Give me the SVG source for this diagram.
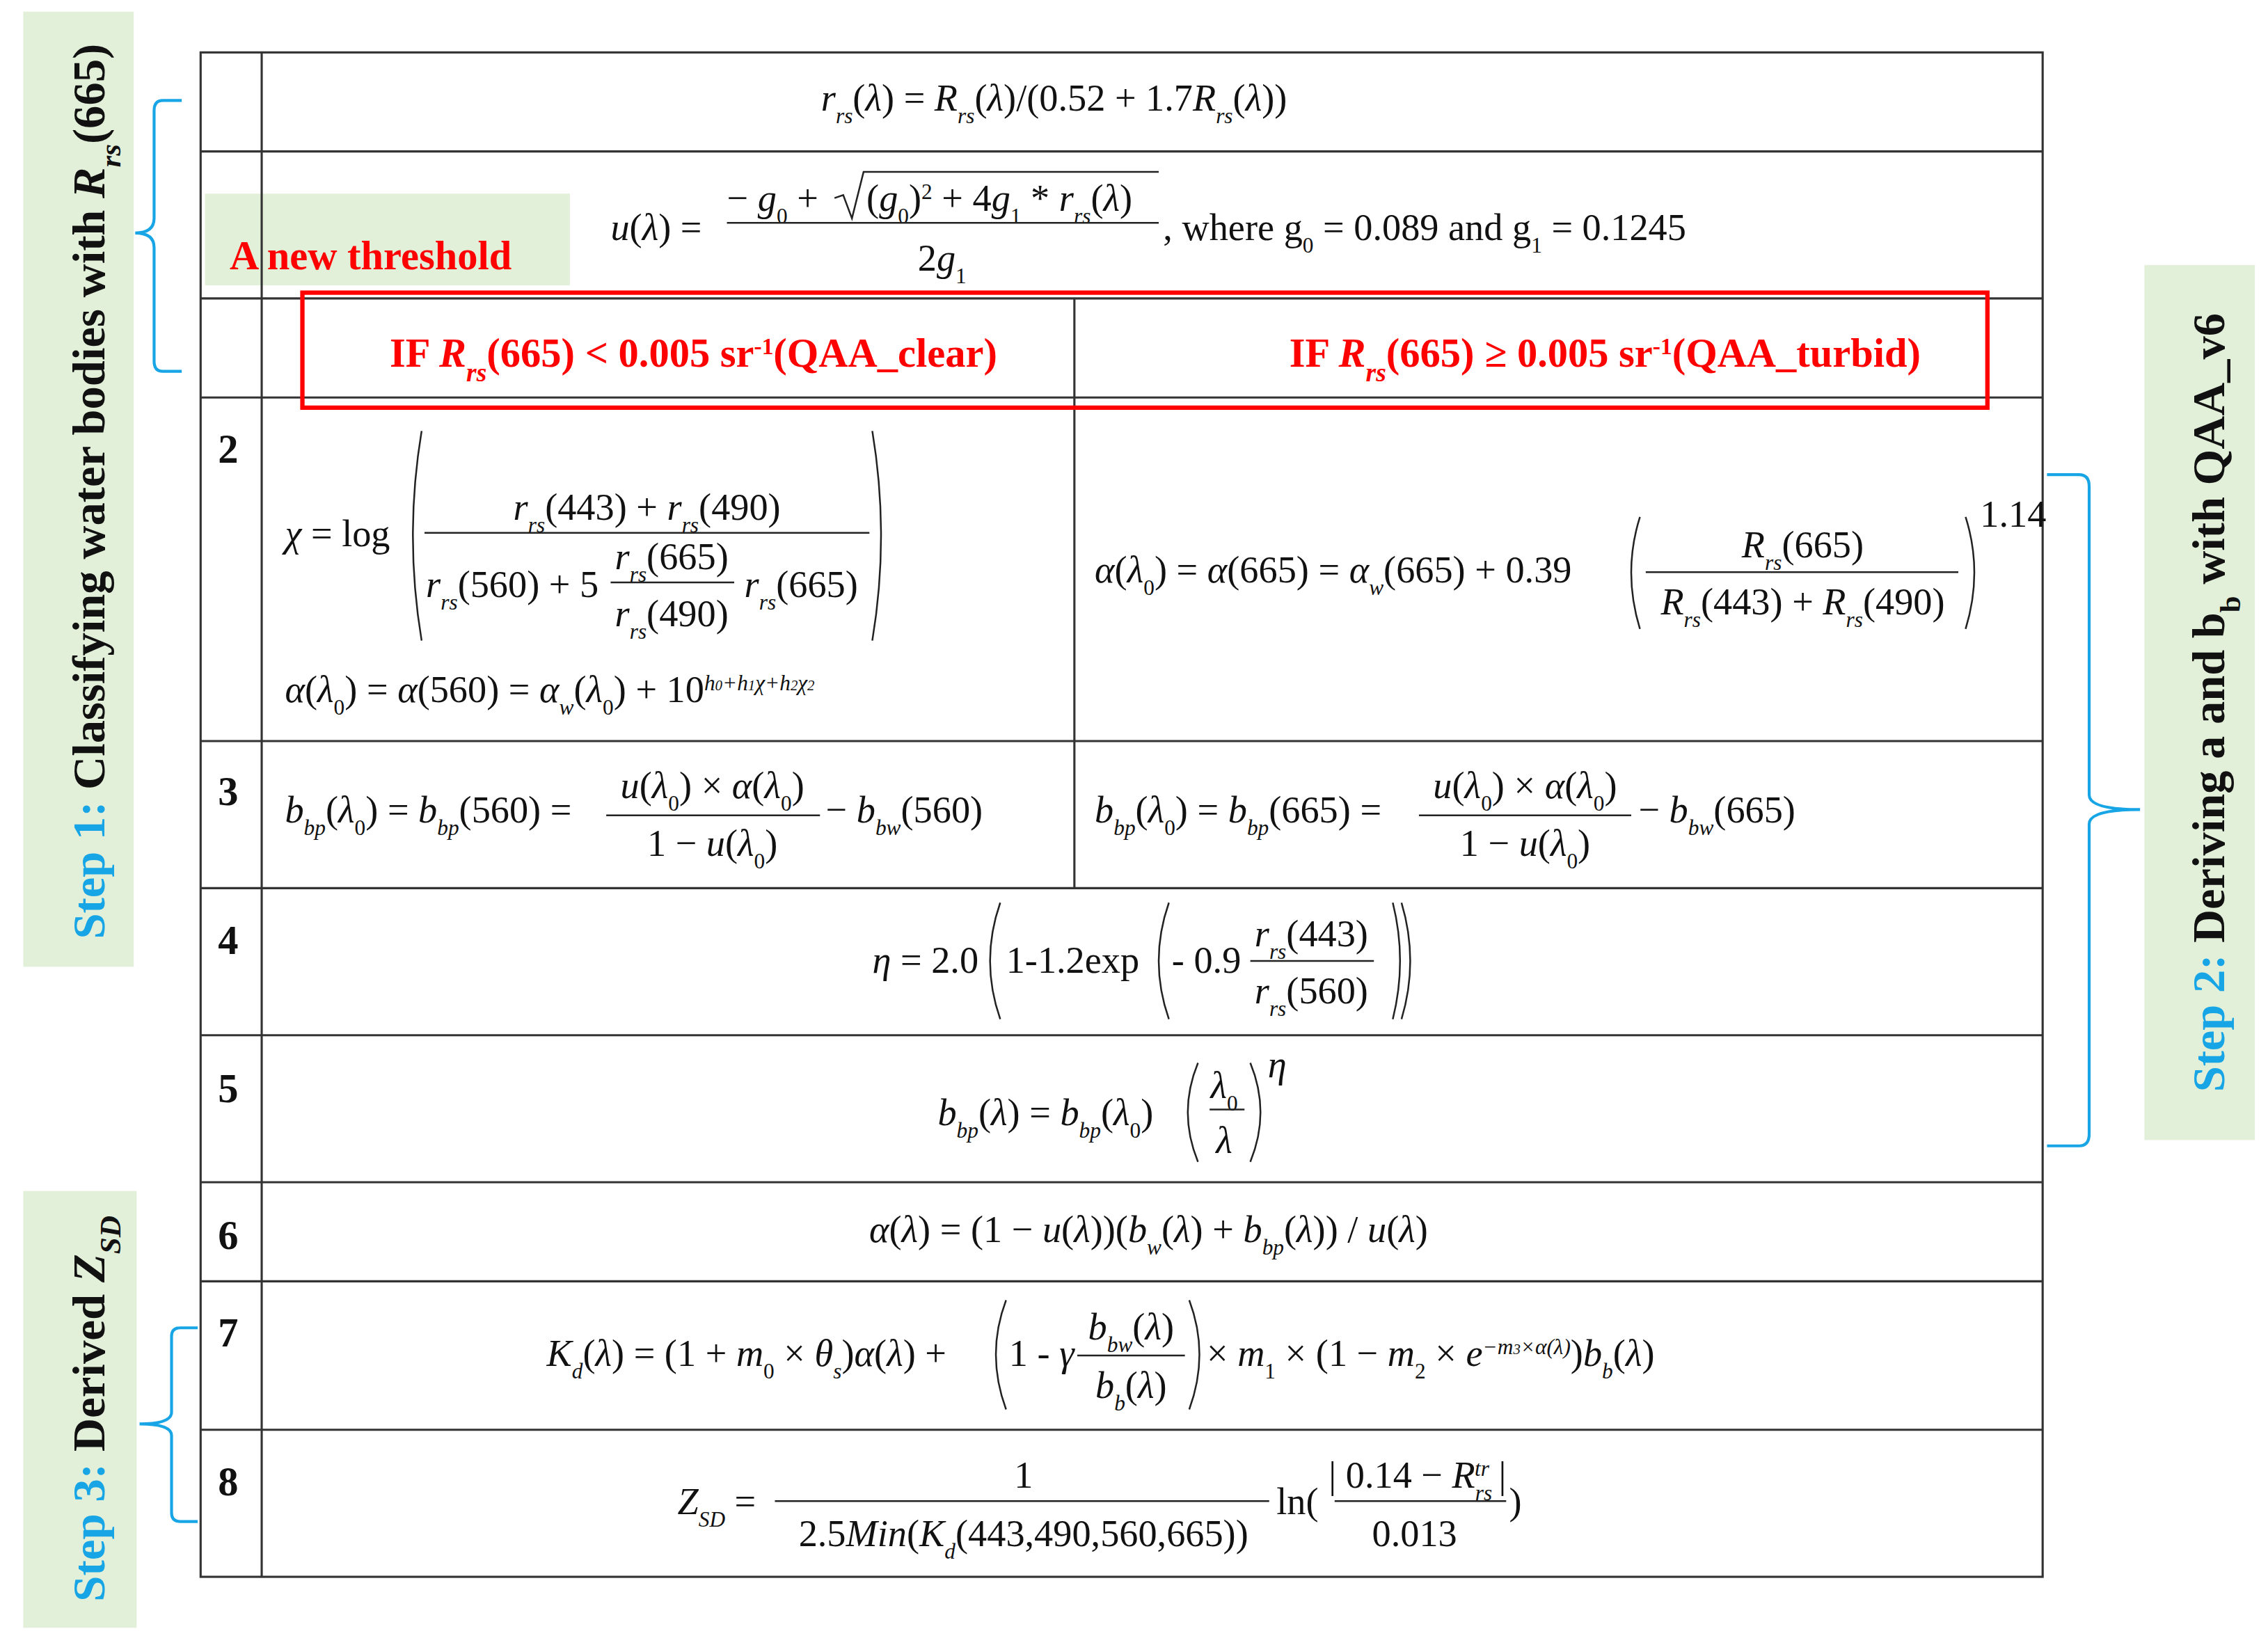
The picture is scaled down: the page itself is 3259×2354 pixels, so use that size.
<svg xmlns="http://www.w3.org/2000/svg" width="3259" height="2354" viewBox="0 0 3259 2354">
<style>
.m{font-family:"Liberation Serif",serif;font-size:26px;fill:#111}
.i{font-style:italic}
.sb{font-size:15px;baseline-shift:sub}
.sp{font-size:15px;baseline-shift:super}
.n{font-family:"Liberation Serif",serif;font-size:28px;font-weight:bold;fill:#111}
.red{font-family:"Liberation Serif",serif;font-size:28px;font-weight:bold;fill:#ff0000}
.g{fill:#e2efd9}
.tl{stroke:#333;stroke-width:1.5;fill:none}
.fl{stroke:#222;stroke-width:1.2;fill:none}
.br{stroke:#17a5e6;stroke-width:2;fill:none}
.st{font-family:"Liberation Serif",serif;font-size:31px;font-weight:bold;fill:#111}
.c{fill:#17a5e6}
</style>
<rect width="3259" height="2354" fill="#fff"/>
<g transform="scale(2.0891,2.0924)">
<g id="labels">
<rect class="g" x="16" y="8" width="76" height="656"/>
<text class="st" transform="translate(72,645) rotate(-90)" textLength="615" lengthAdjust="spacingAndGlyphs"><tspan class="c">Step 1:</tspan> Classifying water bodies with <tspan font-style="italic">R<tspan font-size="20" baseline-shift="sub">rs</tspan></tspan>(665)</text>
<rect class="g" x="16" y="818" width="78" height="300"/>
<text class="st" transform="translate(72,1100) rotate(-90)" textLength="265" lengthAdjust="spacingAndGlyphs"><tspan class="c">Step 3:</tspan> Derived <tspan font-style="italic">Z<tspan font-size="20" baseline-shift="sub">SD</tspan></tspan></text>
<rect class="g" x="1475" y="182" width="76" height="601"/>
<text class="st" transform="translate(1530,750) rotate(-90)" textLength="535" lengthAdjust="spacingAndGlyphs"><tspan class="c">Step 2:</tspan> Deriving a and b<tspan font-size="20" baseline-shift="sub">b</tspan> with QAA_v6</text>
<rect class="g" x="141" y="133" width="251" height="63"/>
<text class="red" x="158" y="185">A new threshold</text>
</g>
<g id="braces">
<path class="br" d="M125,69 H112 Q106,69 106,76 V150 Q106,160 93,160 Q106,160 106,170 V248 Q106,255 112,255 H125"/>
<path class="br" d="M1408,326 H1430 Q1437,326 1437,334 V546 Q1437,556 1472,556 Q1437,556 1437,566 V779 Q1437,787 1430,787 H1408"/>
<path class="br" d="M136,912 H124 Q118,912 118,918 V970 Q118,978 96,978 Q118,978 118,986 V1039 Q118,1045 124,1045 H136"/>
</g>
<g id="table">
<rect class="tl" x="138" y="36" width="1267" height="1047"/>
<path class="tl" d="M180,36 V1083 M138,104 H1405 M138,205 H1405 M138,273 H1405 M138,509 H1405 M138,610 H1405 M138,711 H1405 M138,812 H1405 M138,880 H1405 M138,982 H1405 M739,205 V610"/>
<rect x="208" y="201" width="1159" height="79" fill="none" stroke="#ff0000" stroke-width="3"/>
<text class="red" x="477" y="252" text-anchor="middle">IF <tspan font-style="italic">R<tspan font-size="18" baseline-shift="sub">rs</tspan></tspan>(665) &lt; 0.005 sr<tspan font-size="16" baseline-shift="super">-1</tspan>(QAA_clear)</text>
<text class="red" x="1104" y="252" text-anchor="middle">IF <tspan font-style="italic">R<tspan font-size="18" baseline-shift="sub">rs</tspan></tspan>(665) ≥ 0.005 sr<tspan font-size="16" baseline-shift="super">-1</tspan>(QAA_turbid)</text>
<text class="n" x="150" y="318">2</text>
<text class="n" x="150" y="553">3</text>
<text class="n" x="150" y="655">4</text>
<text class="n" x="150" y="757">5</text>
<text class="n" x="150" y="858">6</text>
<text class="n" x="150" y="925">7</text>
<text class="n" x="150" y="1027">8</text>
</g>
<g id="formulas">
<text class="m" x="725" y="76" text-anchor="middle"><tspan class="i">r</tspan><tspan class="sb i">rs</tspan>(<tspan class="i">λ</tspan>) = <tspan class="i">R</tspan><tspan class="sb i">rs</tspan>(<tspan class="i">λ</tspan>)/(0.52 + 1.7<tspan class="i">R</tspan><tspan class="sb i">rs</tspan>(<tspan class="i">λ</tspan>))</text>
<text class="m" x="420" y="165"><tspan class="i">u</tspan>(<tspan class="i">λ</tspan>) =</text>
<text class="m" x="500" y="145">− <tspan class="i">g</tspan><tspan class="sb">0</tspan> + </text>
<path class="fl" d="M574,136 L580,134 L586,150 L594,118 H797"/>
<text class="m" x="596" y="145">(<tspan class="i">g</tspan><tspan class="sb">0</tspan>)<tspan class="sp">2</tspan> + 4<tspan class="i">g</tspan><tspan class="sb">1</tspan> * <tspan class="i">r</tspan><tspan class="sb i">rs</tspan>(<tspan class="i">λ</tspan>)</text>
<path class="fl" d="M500,153 H797"/>
<text class="m" x="648" y="186" text-anchor="middle">2<tspan class="i">g</tspan><tspan class="sb">1</tspan></text>
<text class="m" x="800" y="165">, where  g<tspan class="sb">0</tspan> = 0.089 and g<tspan class="sb">1</tspan> = 0.1245</text>
<!-- row 2 left -->
<text class="m" x="196" y="375"><tspan class="i">χ</tspan> = log</text>
<path class="fl" d="M290,296 Q278,368 290,440 M600,296 Q612,368 600,440"/>
<text class="m" x="445" y="357" text-anchor="middle"><tspan class="i">r</tspan><tspan class="sb i">rs</tspan>(443) + <tspan class="i">r</tspan><tspan class="sb i">rs</tspan>(490)</text>
<path class="fl" d="M292,366 H598"/>
<text class="m" x="293" y="410"><tspan class="i">r</tspan><tspan class="sb i">rs</tspan>(560) + 5</text>
<text class="m" x="462" y="391" text-anchor="middle"><tspan class="i">r</tspan><tspan class="sb i">rs</tspan>(665)</text>
<path class="fl" d="M420,400 H505"/>
<text class="m" x="462" y="430" text-anchor="middle"><tspan class="i">r</tspan><tspan class="sb i">rs</tspan>(490)</text>
<text class="m" x="512" y="410"><tspan class="i">r</tspan><tspan class="sb i">rs</tspan>(665)</text>
<text class="m" x="196" y="482"><tspan class="i">α</tspan>(<tspan class="i">λ</tspan><tspan class="sb">0</tspan>) = <tspan class="i">α</tspan>(560) = <tspan class="i">α</tspan><tspan class="sb i">w</tspan>(<tspan class="i">λ</tspan><tspan class="sb">0</tspan>) + 10<tspan class="sp i">h<tspan font-size="10">0</tspan>+h<tspan font-size="10">1</tspan>χ+h<tspan font-size="10">2</tspan>χ<tspan font-size="10">2</tspan></tspan></text>
<!-- row 2 right -->
<text class="m" x="753" y="400"><tspan class="i">α</tspan>(<tspan class="i">λ</tspan><tspan class="sb">0</tspan>) = <tspan class="i">α</tspan>(665) = <tspan class="i">α</tspan><tspan class="sb i">w</tspan>(665) + 0.39</text>
<path class="fl" d="M1128,355 Q1116,393 1128,432 M1352,355 Q1364,393 1352,432"/>
<text class="m" x="1240" y="383" text-anchor="middle"><tspan class="i">R</tspan><tspan class="sb i">rs</tspan>(665)</text>
<path class="fl" d="M1132,393 H1347"/>
<text class="m" x="1240" y="422" text-anchor="middle"><tspan class="i">R</tspan><tspan class="sb i">rs</tspan>(443) + <tspan class="i">R</tspan><tspan class="sb i">rs</tspan>(490)</text>
<text class="m" x="1362" y="362" font-size="14">1.14</text>
<!-- row 3 -->
<text class="m" x="196" y="565"><tspan class="i">b</tspan><tspan class="sb i">bp</tspan>(<tspan class="i">λ</tspan><tspan class="sb">0</tspan>) = <tspan class="i">b</tspan><tspan class="sb i">bp</tspan>(560) =</text>
<text class="m" x="490" y="548" text-anchor="middle"><tspan class="i">u</tspan>(<tspan class="i">λ</tspan><tspan class="sb">0</tspan>) × <tspan class="i">α</tspan>(<tspan class="i">λ</tspan><tspan class="sb">0</tspan>)</text>
<path class="fl" d="M417,560 H564"/>
<text class="m" x="490" y="588" text-anchor="middle">1 − <tspan class="i">u</tspan>(<tspan class="i">λ</tspan><tspan class="sb">0</tspan>)</text>
<text class="m" x="568" y="565">− <tspan class="i">b</tspan><tspan class="sb i">bw</tspan>(560)</text>
<text class="m" x="753" y="565"><tspan class="i">b</tspan><tspan class="sb i">bp</tspan>(<tspan class="i">λ</tspan><tspan class="sb">0</tspan>) = <tspan class="i">b</tspan><tspan class="sb i">bp</tspan>(665) =</text>
<text class="m" x="1049" y="548" text-anchor="middle"><tspan class="i">u</tspan>(<tspan class="i">λ</tspan><tspan class="sb">0</tspan>) × <tspan class="i">α</tspan>(<tspan class="i">λ</tspan><tspan class="sb">0</tspan>)</text>
<path class="fl" d="M976,560 H1122"/>
<text class="m" x="1049" y="588" text-anchor="middle">1 − <tspan class="i">u</tspan>(<tspan class="i">λ</tspan><tspan class="sb">0</tspan>)</text>
<text class="m" x="1127" y="565">− <tspan class="i">b</tspan><tspan class="sb i">bw</tspan>(665)</text>
<!-- row 4 -->
<text class="m" x="600" y="668"><tspan class="i">η</tspan> = 2.0</text>
<text class="m" x="692" y="668">1-1.2exp</text>
<text class="m" x="806" y="668">- 0.9</text>
<path class="fl" d="M688,620 Q674,660 688,700 M804,620 Q790,660 804,700 M958,620 Q968,660 958,700 M964,620 Q976,660 964,700"/>
<text class="m" x="902" y="650" text-anchor="middle"><tspan class="i">r</tspan><tspan class="sb i">rs</tspan>(443)</text>
<path class="fl" d="M860,660 H945"/>
<text class="m" x="902" y="689" text-anchor="middle"><tspan class="i">r</tspan><tspan class="sb i">rs</tspan>(560)</text>
<!-- row 5 -->
<text class="m" x="645" y="773"><tspan class="i">b</tspan><tspan class="sb i">bp</tspan>(<tspan class="i">λ</tspan>) = <tspan class="i">b</tspan><tspan class="sb i">bp</tspan>(<tspan class="i">λ</tspan><tspan class="sb">0</tspan>)</text>
<path class="fl" d="M824,730 Q810,764 824,798 M860,730 Q874,764 860,798"/>
<text class="m" x="842" y="754" text-anchor="middle"><tspan class="i">λ</tspan><tspan class="sb">0</tspan></text>
<path class="fl" d="M832,762 H856"/>
<text class="m" x="842" y="792" text-anchor="middle" font-style="italic">λ</text>
<text class="m i" x="872" y="740" font-size="14">η</text>
<!-- row 6 -->
<text class="m" x="790" y="853" text-anchor="middle"><tspan class="i">α</tspan>(<tspan class="i">λ</tspan>) = (1 − <tspan class="i">u</tspan>(<tspan class="i">λ</tspan>))(<tspan class="i">b</tspan><tspan class="sb i">w</tspan>(<tspan class="i">λ</tspan>) + <tspan class="i">b</tspan><tspan class="sb i">bp</tspan>(<tspan class="i">λ</tspan>)) / <tspan class="i">u</tspan>(<tspan class="i">λ</tspan>)</text>
<!-- row 7 -->
<text class="m" x="376" y="938"><tspan class="i">K</tspan><tspan class="sb i">d</tspan>(<tspan class="i">λ</tspan>) = (1 + <tspan class="i">m</tspan><tspan class="sb">0</tspan> × <tspan class="i">θ</tspan><tspan class="sb i">s</tspan>)<tspan class="i">α</tspan>(<tspan class="i">λ</tspan>) +</text>
<path class="fl" d="M692,893 Q678,930 692,968 M818,893 Q832,930 818,968"/>
<text class="m" x="694" y="938">1 - <tspan class="i">γ</tspan></text>
<text class="m" x="778" y="920" text-anchor="middle"><tspan class="i">b</tspan><tspan class="sb i">bw</tspan>(<tspan class="i">λ</tspan>)</text>
<path class="fl" d="M741,931 H815"/>
<text class="m" x="778" y="960" text-anchor="middle"><tspan class="i">b</tspan><tspan class="sb i">b</tspan>(<tspan class="i">λ</tspan>)</text>
<text class="m" x="830" y="938">× <tspan class="i">m</tspan><tspan class="sb">1</tspan> × (1 − <tspan class="i">m</tspan><tspan class="sb">2</tspan> × <tspan class="i">e</tspan><tspan class="sp i">−m<tspan font-size="10">3</tspan>×α(λ)</tspan>)<tspan class="i">b</tspan><tspan class="sb i">b</tspan>(<tspan class="i">λ</tspan>)</text>
<!-- row 8 -->
<text class="m" x="466" y="1040"><tspan class="i">Z</tspan><tspan class="sb i">SD</tspan> =</text>
<text class="m" x="704" y="1022" text-anchor="middle">1</text>
<path class="fl" d="M533,1031 H873"/>
<text class="m" x="704" y="1062" text-anchor="middle">2.5<tspan class="i">Min</tspan>(<tspan class="i">K</tspan><tspan class="sb i">d</tspan>(443,490,560,665))</text>
<text class="m" x="878" y="1040">ln(</text>
<text class="m" x="975" y="1022" text-anchor="middle">| 0.14 − <tspan class="i">R</tspan><tspan class="sb i">rs</tspan><tspan class="sp i" dx="-12">tr</tspan> |</text>
<path class="fl" d="M918,1031 H1036"/>
<text class="m" x="973" y="1062" text-anchor="middle">0.013</text>
<text class="m" x="1038" y="1040">)</text>
</g>
</g>
</svg>
